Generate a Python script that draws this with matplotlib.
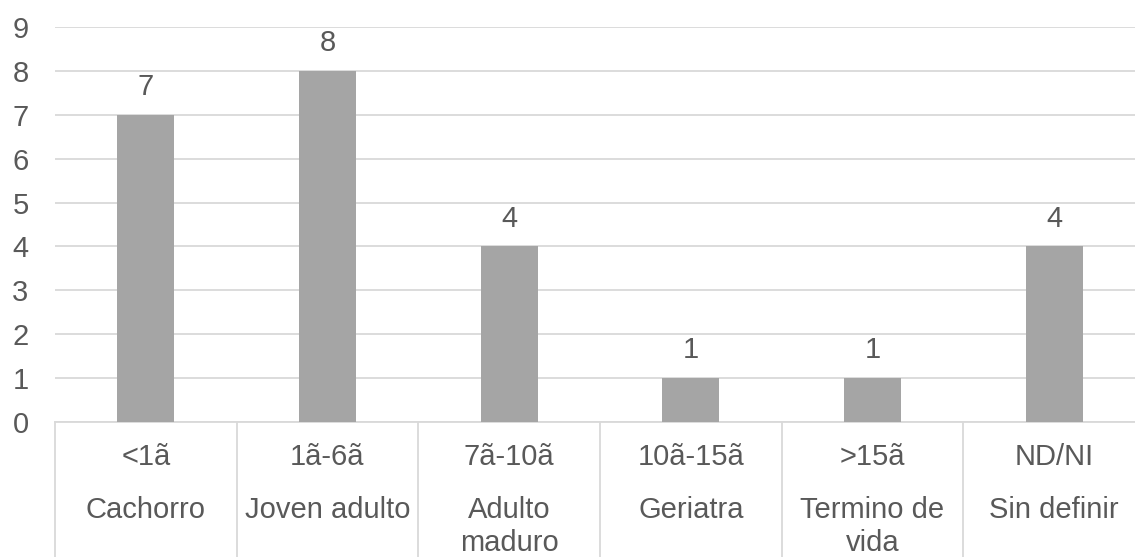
import matplotlib
matplotlib.use("Agg")
import matplotlib.pyplot as plt
from matplotlib.transforms import blended_transform_factory
from matplotlib.lines import Line2D

# Age ranges and life-stage names for each group
age_ranges = ["<1ã", "1ã-6ã", "7ã-10ã", "10ã-15ã", ">15ã", "ND/NI"]
stages = ["Cachorro", "Joven adulto", "Adulto\nmaduro", "Geriatra", "Termino de\nvida", "Sin definir"]
counts = [7, 8, 4, 1, 1, 4]
y_ticks = list(range(0, 10))

W, H = 1135, 557
plt.rcParams["font.family"] = ["Liberation Sans", "DejaVu Sans"]
text_color = "#595959"
grid_color = "#D9D9D9"
bar_color = "#A5A5A5"
fs = 21

fig = plt.figure(figsize=(W / 100, H / 100), dpi=100)
ax_left, ax_right = 55, 1145
ax_top, ax_bottom = 27, 422
ax = fig.add_axes([ax_left / W, 1 - ax_bottom / H,
                   (ax_right - ax_left) / W, (ax_bottom - ax_top) / H])

x = list(range(len(counts)))
ax.bar(x, counts, width=0.314, color=bar_color, zorder=3)
ax.set_xlim(-0.5, len(counts) - 0.5)
ax.set_ylim(0, 9)

ax.set_yticks(y_ticks)
ax.set_yticklabels([str(t) for t in y_ticks], fontsize=fs, color=text_color)
ax.tick_params(axis="y", length=0, pad=19)
ax.set_xticks([])
ax.grid(axis="y", color=grid_color, linewidth=1.3, zorder=0)
for s in ["top", "right", "left"]:
    ax.spines[s].set_visible(False)
ax.spines["bottom"].set_color(grid_color)
ax.spines["bottom"].set_linewidth(1.3)

# Value labels above each bar
for xi, c in zip(x, counts):
    ax.annotate(str(c), (xi, c), xytext=(0, 20), textcoords="offset points",
                ha="center", va="center", fontsize=fs, color=text_color)

# Two-level category labels below the axis
trans = blended_transform_factory(ax.transData, fig.transFigure)
line_y = [510, 543]
for xi, rng, st in zip(x, age_ranges, stages):
    ax.text(xi, 1 - 457 / H, rng, transform=trans, ha="center", va="center",
            fontsize=fs, color=text_color)
    for k, part in enumerate(st.split("\n")):
        ax.text(xi, 1 - line_y[k] / H, part, transform=trans, ha="center",
                va="center", fontsize=fs, color=text_color)

# Vertical separators between categories
for b in [i - 0.5 for i in range(len(counts) + 1)]:
    ax.add_line(Line2D([b, b], [1 - ax_bottom / H, 0], transform=trans,
                       color=grid_color, linewidth=1.3, clip_on=False))

fig.savefig("out.png", dpi=100)
